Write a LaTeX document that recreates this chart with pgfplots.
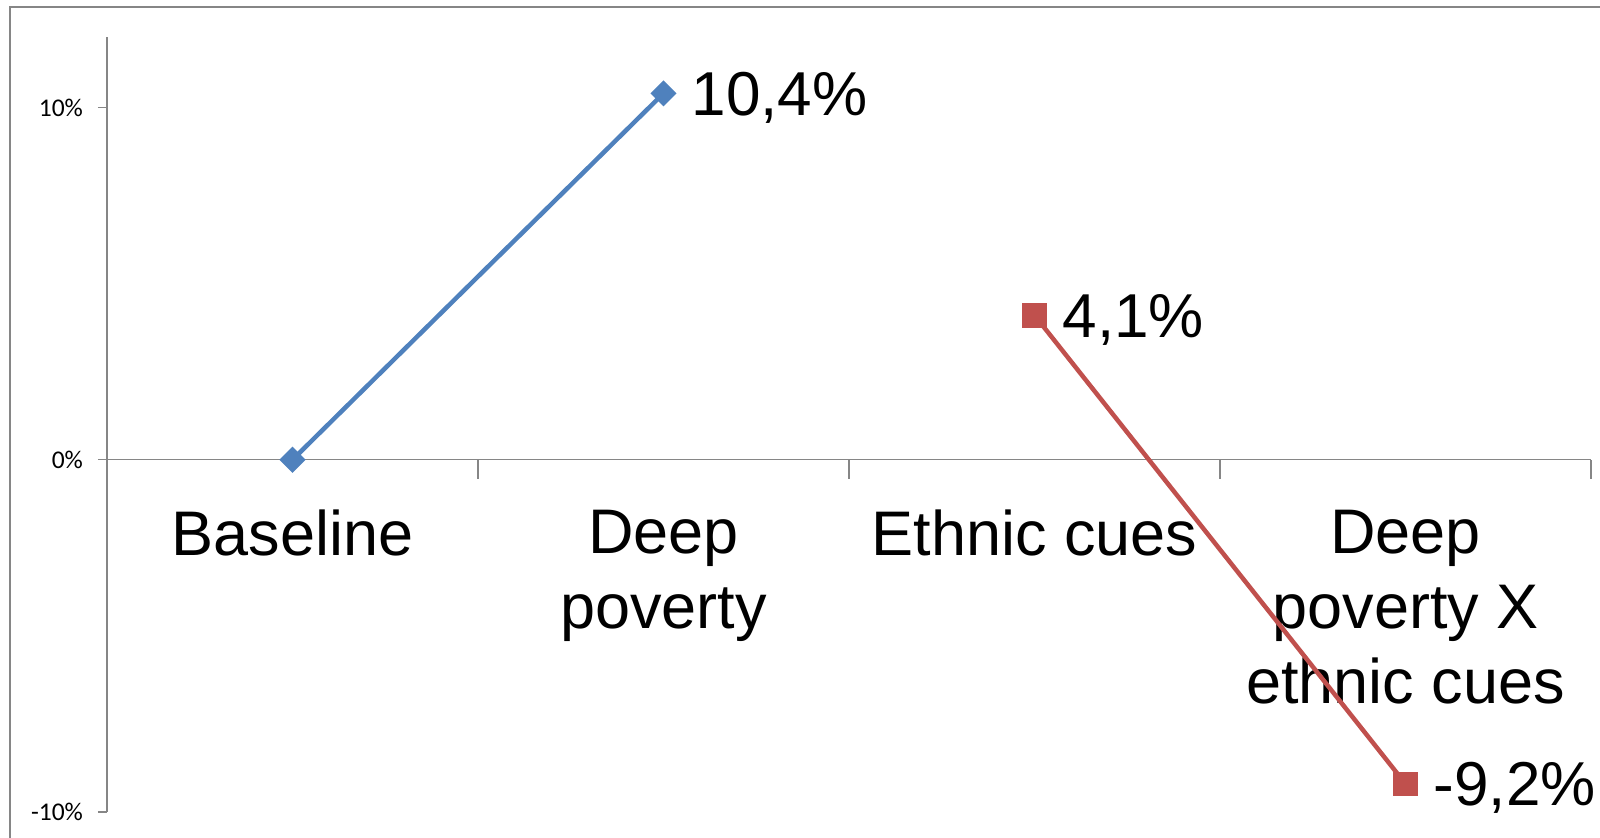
\documentclass[border=0pt]{standalone}
\usepackage{pgfplots}
\pgfplotsset{compat=1.18}
\usepackage{fontspec}
\setmainfont{Liberation Sans}
\newfontfamily\calibri{Carlito}
\definecolor{xlblue}{HTML}{4F81BD}
\definecolor{xlred}{HTML}{C0504D}
\definecolor{xlgray}{HTML}{868686}
\begin{document}
\begin{tikzpicture}
\useasboundingbox (0,0) rectangle (800pt,418.5pt);
% chart area frame (only left and top edge visible)
\draw[xlgray, line width=1pt] (5pt,-2pt) -- (5pt,415pt) -- (802pt,415pt);
\begin{axis}[
  at={(53.5pt,12.5pt)}, anchor=south west,
  scale only axis,
  width=742pt, height=387.5pt,
  xmin=-0.5, xmax=3.5,
  ymin=-0.1, ymax=0.12,
  clip=false,
  axis x line*=middle,
  axis y line*=left,
  axis line style={xlgray, line width=0.75pt},
  hide obscured x ticks=false,
  hide obscured y ticks=false,
  tick align=outside,
  tick style={xlgray, line width=0.75pt},
  major tick length=4.5pt,
  minor tick length=9.5pt,
  major x tick style={draw=none},
  xtick={0,1,2,3},
  minor xtick={0.5,1.5,2.5,3.5},
  xticklabels={Baseline,{Deep\\poverty},Ethnic cues,{Deep\\poverty X\\ethnic cues}},
  xticklabel style={font=\fontsize{31.5}{37.5}\selectfont, align=center, anchor=north, inner sep=0pt, yshift=-20.5pt},
  ytick={-0.1,0,0.1},
  yticklabels={-10\%,0\%,10\%},
  yticklabel style={font=\calibri\fontsize{12.75}{15}\selectfont, xshift=-4pt},
  nodes near coords,
  point meta=explicit symbolic,
  every node near coord/.style={font=\fontsize{31}{36}\selectfont, anchor=base west, inner sep=0pt, xshift=13pt, yshift=-11pt, text=black},
]
\addplot[xlblue, line width=2.25pt, mark=square*, mark size=3.5pt,
  mark options={rotate=45}]
  coordinates {(0,0) [] (1,0.104) [10,4\%]};
\addplot[xlred, line width=2.25pt, mark=square*, mark size=5pt]
  coordinates {(2,0.041) [4,1\%] (3,-0.092) [-9,2\%]};
\end{axis}
\end{tikzpicture}
\end{document}
